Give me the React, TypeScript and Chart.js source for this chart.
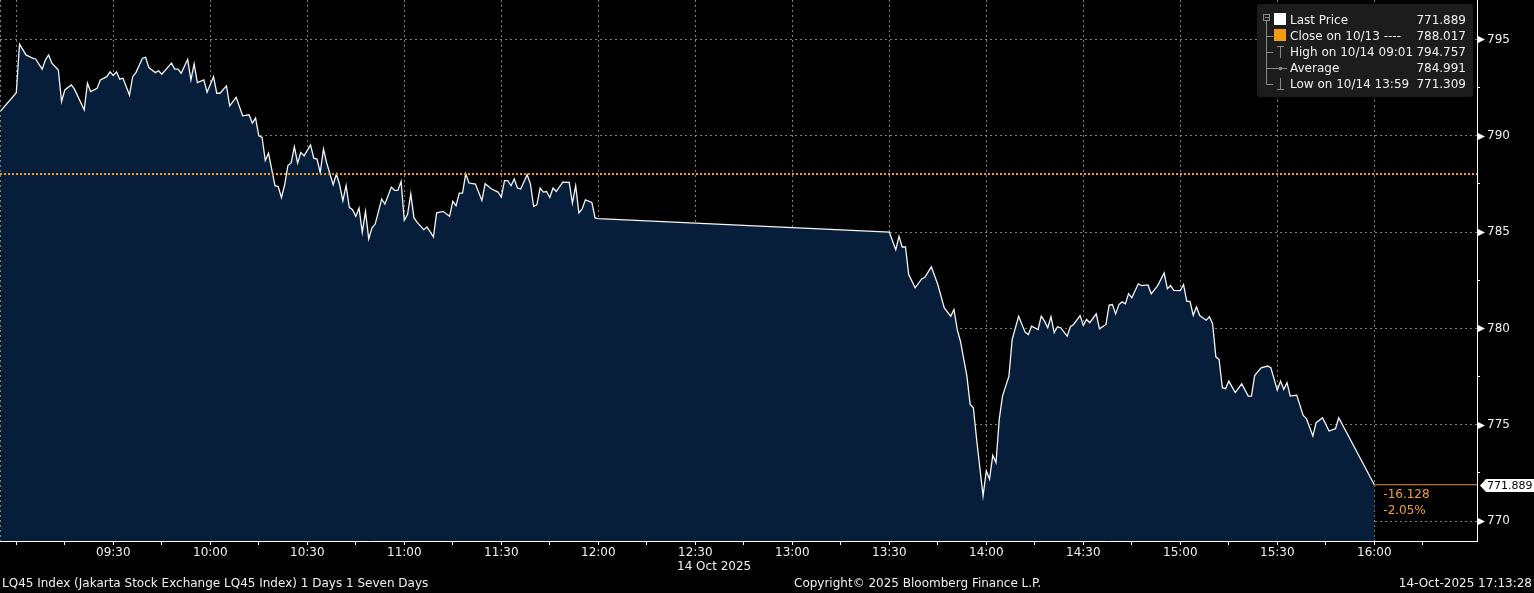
import React, { useEffect, useRef } from "react";
import { Chart, registerables } from "chart.js";
Chart.register(...registerables);

// ---- data ----
const times = [
  "08:55","09:00","09:01","09:03","09:05","09:06","09:08","09:09","09:10","09:11","09:13","09:14","09:15","09:17","09:18",
  "09:21","09:22","09:23","09:25","09:26","09:28","09:29","09:30","09:31","09:32","09:33","09:35","09:36","09:37","09:39",
  "09:40","09:41","09:43","09:44","09:45","09:48","09:49","09:50","09:51","09:53","09:54","09:55","09:56","09:58","09:59",
  "10:01","10:02","10:03","10:05","10:06","10:08","10:10","10:12","10:13","10:14","10:15","10:16","10:17","10:18","10:20",
  "10:21","10:22","10:23","10:24","10:25","10:26","10:27","10:28","10:29","10:31","10:32","10:33","10:34","10:35","10:36",
  "10:38","10:39","10:40","10:41","10:42","10:43","10:44","10:45","10:46","10:47","10:48","10:49","10:50","10:51","10:53",
  "10:54","10:56","10:57","10:58","10:59","11:00","11:01","11:02","11:03","11:04","11:06","11:07","11:09","11:10","11:12",
  "11:14","11:15","11:16","11:17","11:18","11:19","11:20","11:22","11:24","11:25","11:27","11:29","11:30","11:31","11:32",
  "11:33","11:34","11:35","11:36","11:38","11:39","11:40","11:41","11:42","11:43","11:44","11:45","11:46","11:47","11:49",
  "11:51","11:52","11:53","11:54","11:55","11:56","11:58","11:59","12:00",
  "13:30","13:32","13:33","13:34","13:35","13:36","13:38","13:40","13:41","13:43","13:45","13:47","13:49","13:50","13:51",
  "13:52","13:54","13:55","13:56","13:57","13:58","13:59","14:00","14:01","14:02","14:03","14:04","14:05","14:07","14:08",
  "14:10","14:12","14:13","14:14","14:16","14:17","14:18","14:19","14:20","14:21","14:22","14:23","14:25","14:26","14:27",
  "14:29","14:30","14:31","14:32","14:34","14:35","14:37","14:38","14:39","14:40","14:41","14:42","14:43","14:44","14:45",
  "14:47","14:48","14:50","14:51","14:53","14:55","14:56","14:57","14:58","15:00","15:01","15:02","15:03","15:04","15:05",
  "15:06","15:08","15:09","15:10","15:11","15:12","15:13","15:14","15:15","15:17","15:19","15:21","15:22","15:23","15:25",
  "15:27","15:28","15:30","15:31","15:32","15:33","15:34","15:36","15:38","15:39","15:41","15:42","15:44","15:46","15:48",
  "15:49","16:00",
];
const prices = [
  791.26,792.24,794.76,794.20,794.03,793.99,793.46,793.94,794.20,793.77,793.42,791.78,792.38,792.64,792.42,
  791.35,792.73,792.30,792.47,792.90,793.07,793.32,793.13,793.32,792.94,792.99,792.12,793.07,793.28,794.03,
  794.08,793.54,793.28,793.38,793.20,793.77,793.46,793.46,793.25,793.97,792.90,793.73,792.76,792.90,792.26,
  793.07,792.21,792.21,792.59,791.55,792.00,791.04,791.09,790.66,790.92,790.00,789.93,788.72,789.10,787.41,
  787.37,786.80,787.46,788.46,788.59,789.43,788.59,789.14,788.96,789.53,788.84,788.79,788.10,789.31,788.59,
  787.46,788.02,787.46,786.63,787.41,786.29,786.17,785.82,786.25,784.99,786.08,784.65,785.22,785.42,786.72,
  786.46,787.34,787.17,787.17,787.63,785.61,785.91,786.99,785.74,785.51,785.13,785.27,784.75,786.00,786.08,
  785.82,786.60,786.37,787.03,787.03,788.03,787.55,787.50,786.65,787.51,787.24,787.08,786.82,787.68,787.68,
  787.41,787.76,787.29,787.24,787.98,787.51,786.34,786.42,787.29,787.08,787.11,786.80,787.29,787.11,787.60,
  787.58,786.51,787.41,786.00,786.20,786.68,786.54,785.74,785.70,
  785.00,784.09,784.78,784.23,784.23,782.80,782.11,782.57,782.66,783.20,782.28,781.07,780.64,780.98,779.95,
  779.34,777.53,776.06,775.89,774.25,772.78,771.31,772.61,772.18,773.42,773.04,775.28,776.49,777.53,779.43,
  780.64,779.81,779.69,780.12,779.95,780.64,780.38,780.04,780.61,779.78,780.09,780.04,779.60,780.09,780.21,
  780.67,780.16,780.47,780.30,780.76,779.98,780.21,781.21,781.24,780.76,781.24,781.38,781.28,781.81,781.59,
  782.32,782.23,782.26,781.80,782.23,782.88,782.07,782.23,781.98,781.97,782.28,781.41,781.41,780.69,781.12,
  780.67,780.43,780.61,780.24,778.53,778.39,776.93,776.88,777.27,776.67,777.13,776.49,776.49,777.56,777.96,
  778.05,777.96,776.80,777.27,776.84,777.19,776.49,776.54,775.49,775.32,774.42,775.11,775.37,774.68,774.80,
  775.37,771.889,
];
const prevClose = 788.017;
const lastPrice = 771.889;
const lastPriceTime = "16:00";
const netChangeText = "-16.128";
const pctChangeText = "-2.05%";
const yMajorTicks = [770, 775, 780, 785, 790, 795];
const legendLabels = ["Last Price", "Close on 10/13 ----", "High on 10/14 09:01", "Average", "Low on 10/14 13:59"];
const legendValues = ["771.889", "788.017", "794.757", "784.991", "771.309"];
const dateLabel = "14 Oct 2025";
const footerLeft = "LQ45 Index (Jakarta Stock Exchange LQ45 Index) 1 Days 1 Seven Days";
const footerCenter = "Copyright\u00a9 2025 Bloomberg Finance L.P.";
const footerRight = "14-Oct-2025 17:13:28";

// axis ranges (minutes after 09:00 / index points)
const X_MIN = -5.04;
const X_MAX = 451.76;
const Y_MIN = 768.97;
const Y_MAX = 797.05;

const FONT = "'DejaVu Sans', sans-serif";
const ORANGE = "#f0a030";
const GRID = "rgba(150,150,150,0.85)";

const toMin = (s: string) => {
  const [h, m] = s.split(":").map(Number);
  return (h - 9) * 60 + m;
};
const fmt = (t: number) => {
  const total = 9 * 60 + t;
  const h = Math.floor(total / 60);
  const m = total % 60;
  return String(h).padStart(2, "0") + ":" + String(m).padStart(2, "0");
};

const bbgPlugin = {
  id: "bbg",
  afterDraw(chart: any) {
    const { ctx } = chart;
    const xs = chart.scales.x;
    const ys = chart.scales.y;
    const area = chart.chartArea;
    ctx.save();
    ctx.font = `12px ${FONT}`;

    // left dashed frame line
    ctx.strokeStyle = GRID;
    ctx.lineWidth = 1;
    ctx.setLineDash([2, 3]);
    ctx.beginPath();
    ctx.moveTo(0.5, area.top);
    ctx.lineTo(0.5, area.bottom);
    ctx.stroke();
    ctx.setLineDash([]);

    // arrows on major y ticks
    ctx.fillStyle = "#ffffff";
    for (const v of yMajorTicks) {
      const y = Math.round(ys.getPixelForValue(v)) + 0.5;
      ctx.beginPath();
      ctx.moveTo(area.right + 1, y - 3.5);
      ctx.lineTo(area.right + 8, y);
      ctx.lineTo(area.right + 1, y + 3.5);
      ctx.closePath();
      ctx.fill();
    }

    // last price tag
    const ly = Math.round(ys.getPixelForValue(lastPrice)) + 0.5;
    ctx.fillStyle = "#ffffff";
    ctx.beginPath();
    ctx.moveTo(area.right + 3, ly);
    ctx.lineTo(area.right + 9, ly - 6.5);
    ctx.lineTo(1534, ly - 6.5);
    ctx.lineTo(1534, ly + 6.5);
    ctx.lineTo(area.right + 9, ly + 6.5);
    ctx.closePath();
    ctx.fill();
    ctx.fillStyle = "#000000";
    ctx.textAlign = "left";
    ctx.textBaseline = "middle";
    ctx.font = `11px ${FONT}`;
    ctx.fillText(lastPrice.toFixed(3), area.right + 10, ly + 0.5);
    ctx.font = `12px ${FONT}`;

    // change texts
    const lx = xs.getPixelForValue(toMin(lastPriceTime));
    ctx.fillStyle = ORANGE;
    ctx.fillText(netChangeText, lx + 9, ly + 9);
    ctx.fillText(pctChangeText, lx + 9, ly + 25);

    // date label under x axis
    ctx.fillStyle = "#f0f0f0";
    ctx.fillText(dateLabel, 677, 567);

    // footer
    ctx.fillText(footerLeft, 2, 584);
    ctx.fillText(footerCenter, 794, 584);
    ctx.textAlign = "right";
    ctx.fillText(footerRight, 1532, 584);

    // legend
    const bx = 1257, by = 4, bw = 216, bh = 93;
    ctx.fillStyle = "#1c1c1c";
    ctx.beginPath();
    if (ctx.roundRect) ctx.roundRect(bx, by, bw, bh, 3);
    else ctx.rect(bx, by, bw, bh);
    ctx.fill();

    const rows = [20, 36, 52, 68, 84];
    ctx.strokeStyle = "#8a8a8a";
    ctx.lineWidth = 1;
    // collapse box
    ctx.strokeRect(1263.5, 14.5, 6, 6);
    ctx.beginPath();
    ctx.moveTo(1265, 17.5);
    ctx.lineTo(1269, 17.5);
    // tree trunk
    ctx.moveTo(1266.5, 21);
    ctx.lineTo(1266.5, rows[4] + 0.5);
    for (let i = 1; i < 5; i++) {
      ctx.moveTo(1266.5, rows[i] + 0.5);
      ctx.lineTo(1273, rows[i] + 0.5);
    }
    // high marker (T)
    ctx.moveTo(1277, rows[2] - 5.5);
    ctx.lineTo(1284, rows[2] - 5.5);
    ctx.moveTo(1280.5, rows[2] - 5.5);
    ctx.lineTo(1280.5, rows[2] + 6);
    // average marker
    ctx.moveTo(1273, rows[3] + 0.5);
    ctx.lineTo(1287, rows[3] + 0.5);
    // low marker
    ctx.moveTo(1280.5, rows[4] - 6);
    ctx.lineTo(1280.5, rows[4] + 5.5);
    ctx.moveTo(1277, rows[4] + 5.5);
    ctx.lineTo(1284, rows[4] + 5.5);
    ctx.stroke();
    ctx.fillStyle = "#8a8a8a";
    ctx.beginPath();
    ctx.arc(1280.5, rows[3] + 0.5, 1.8, 0, Math.PI * 2);
    ctx.fill();

    ctx.fillStyle = "#ffffff";
    ctx.fillRect(1274, 13, 12, 12);
    ctx.fillStyle = "#f39c12";
    ctx.fillRect(1274, 29, 12, 12);

    ctx.fillStyle = "#f0f0f0";
    ctx.textBaseline = "middle";
    for (let i = 0; i < 5; i++) {
      ctx.textAlign = "left";
      ctx.fillText(legendLabels[i], 1290, rows[i] + 0.5);
      ctx.textAlign = "right";
      ctx.fillText(legendValues[i], 1466, rows[i] + 0.5);
    }
    ctx.restore();
  },
};

export default function App() {
  const ref = useRef<HTMLCanvasElement | null>(null);
  useEffect(() => {
    document.body.style.margin = "0";
    document.body.style.background = "#000";
    const canvas = ref.current!;
    const priceData = times.map((t, i) => ({ x: toMin(t), y: prices[i] }));
    const chart = new Chart(canvas, {
      type: "line",
      data: {
        datasets: [
          {
            label: "Close on 10/13",
            data: [
              { x: X_MIN, y: prevClose },
              { x: X_MAX, y: prevClose },
            ],
            borderColor: ORANGE,
            borderWidth: 2,
            borderDash: [2, 2],
            pointRadius: 0,
            fill: false,
          },
          {
            label: "Last Price line",
            data: [
              { x: toMin(lastPriceTime), y: lastPrice },
              { x: X_MAX, y: lastPrice },
            ],
            borderColor: "#e8903a",
            borderWidth: 1,
            pointRadius: 0,
            fill: false,
          },
          {
            label: "Last Price",
            data: priceData,
            borderColor: "#f4f4f4",
            borderWidth: 1.3,
            backgroundColor: "rgb(7,30,58)",
            fill: "start",
            pointRadius: 0,
            tension: 0,
          },
        ],
      },
      options: {
        animation: false,
        responsive: false,
        devicePixelRatio: 1,
        events: [],
        layout: { padding: 0 },
        plugins: { legend: { display: false }, tooltip: { enabled: false } },
        scales: {
          x: {
            type: "linear",
            min: X_MIN,
            max: X_MAX,
            z: 1,
            afterFit: (s: any) => {
              s.height = 52;
              s.paddingLeft = 0;
              s.paddingRight = 0;
            },
            ticks: {
              stepSize: 15,
              includeBounds: false,
              autoSkip: false,
              maxRotation: 0,
              padding: 1,
              color: "#f0f0f0",
              font: { family: FONT, size: 12 },
              callback: (v: any) => {
                const n = Number(v);
                return n % 30 === 0 && n > 0 && n <= 420 ? fmt(n) : "";
              },
            },
            grid: {
              color: (c: any) => {
                const n = c.tick ? c.tick.value : NaN;
                return n % 30 === 0 && n <= 420 ? GRID : "transparent";
              },
              tickColor: (c: any) => {
                const n = c.tick ? c.tick.value : NaN;
                return n % 15 === 0 && n <= 435 ? "#ffffff" : "transparent";
              },
              tickLength: 4,
              lineWidth: 1,
            },
            border: { display: true, color: "#ffffff", width: 1, dash: [2, 3] },
          },
          y: {
            type: "linear",
            position: "right",
            min: Y_MIN,
            max: Y_MAX,
            z: 1,
            afterFit: (s: any) => {
              s.width = 57;
              s.paddingTop = 0;
              s.paddingBottom = 0;
            },
            ticks: {
              stepSize: 2.5,
              includeBounds: false,
              padding: 7,
              color: "#f0f0f0",
              font: { family: FONT, size: 12 },
              callback: (v: any) => {
                const n = Number(v);
                return Math.abs(n % 5) < 1e-6 ? String(Math.round(n)) : "";
              },
            },
            grid: {
              color: (c: any) => {
                const n = c.tick ? c.tick.value : NaN;
                return Math.abs(n % 5) < 1e-6 ? GRID : "transparent";
              },
              tickColor: "#ffffff",
              tickLength: 3,
              lineWidth: 1,
            },
            border: { display: true, color: "#ffffff", width: 1, dash: [2, 3] },
          },
        },
      },
      plugins: [bbgPlugin],
    } as any);
    return () => chart.destroy();
  }, []);
  return (
    <canvas
      ref={ref}
      width={1534}
      height={593}
      style={{ display: "block", width: 1534, height: 593, background: "#000" }}
    />
  );
}
